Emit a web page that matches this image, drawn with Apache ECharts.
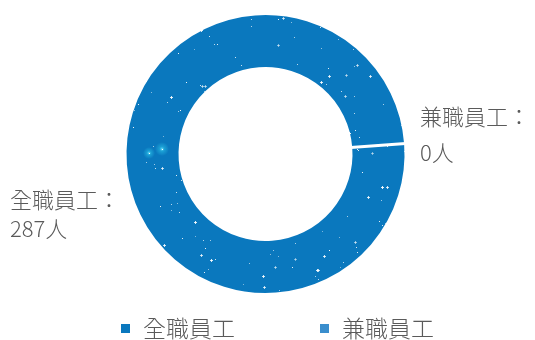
<!DOCTYPE html>
<html>
<head>
<meta charset="utf-8">
<script src="https://cdn.jsdelivr.net/npm/echarts@6/dist/echarts.min.js"></script>
<style>
  html, body { margin: 0; padding: 0; background: #fff; }
  #chart { width: 535px; height: 340px; }
</style>
</head>
<body>
<div id="chart"></div>
<script>
// Staff headcount by employment type
const categories = ['全職員工', '兼職員工'];
const headcounts = [287, 0];
const unit = '人';
const sliceColors = ['#0a78be', '#3a8ecd'];

const W = 535, H = 340;

// Star-speckled fill texture for the ring (deterministic sequence)
function makeStarTexture() {
  const c = document.createElement('canvas');
  c.width = W; c.height = H;
  const g = c.getContext('2d');
  g.fillStyle = sliceColors[0];
  g.fillRect(0, 0, W, H);
  let s = 12345;
  const next = () => { s = (s * 1103515245 + 12345) % 2147483648; return s / 2147483648; };
  for (let i = 0; i < 240; i++) {
    const x = Math.round(120 + next() * 295);
    const y = Math.round(10 + next() * 290);
    const big = next() < 0.35;
    const a = 0.45 + next() * 0.5;
    g.fillStyle = 'rgba(255,255,255,' + a.toFixed(2) + ')';
    if (big) {
      g.fillRect(x - 1, y, 3, 1);
      g.fillRect(x, y - 1, 1, 3);
    } else {
      g.fillRect(x, y, 1, 1);
    }
  }
  // two soft cyan glints on the left side of the ring
  [[149, 153, 6], [162, 149, 7]].forEach(([x, y, r]) => {
    const rg = g.createRadialGradient(x, y, 0, x, y, r);
    rg.addColorStop(0, 'rgba(120,230,255,0.95)');
    rg.addColorStop(0.35, 'rgba(40,190,230,0.55)');
    rg.addColorStop(1, 'rgba(40,190,230,0)');
    g.fillStyle = rg;
    g.beginPath(); g.arc(x, y, r, 0, Math.PI * 2); g.fill();
    g.fillStyle = '#ffffff';
    g.fillRect(x, y, 1, 1);
  });
  return c;
}

const texture = makeStarTexture();
const labelFont = "'Noto Sans CJK TC', 'Noto Sans', sans-serif";
const textColor = '#5a5a5a';

const chart = echarts.init(document.getElementById('chart'), null, { renderer: 'canvas' });

chart.setOption({
  animation: false,
  legend: {
    left: 114,
    top: 312,
    itemWidth: 11,
    itemHeight: 11,
    itemGap: 83,
    icon: 'rect',
    textStyle: { fontSize: 23, fontWeight: 300, color: textColor, fontFamily: labelFont, padding: [0, 0, 0, 7] },
    data: categories.map((name, i) => ({ name, itemStyle: { color: sliceColors[i] } }))
  },
  series: [{
    type: 'pie',
    center: [265.5, 154],
    radius: [85.5, 140.5],
    startAngle: 4.3,
    clockwise: true,
    avoidLabelOverlap: false,
    itemStyle: { borderColor: '#fff', borderWidth: 3 },
    emphasis: { disabled: true },
    label: {
      show: true,
      position: 'outside',
      formatter: p => p.name + '：\n' + p.value + unit,
      fontSize: 22,
      fontWeight: 300,
      color: textColor,
      fontFamily: labelFont,
      align: 'left'
    },
    labelLine: { show: false },
    labelLayout: function (p) {
      if (p.dataIndex === 0) {
        return { x: 10, y: 214, align: 'left', verticalAlign: 'middle' };
      }
      return { x: 420, y: 135, align: 'left', verticalAlign: 'middle' };
    },
    data: categories.map((name, i) => ({
      name,
      value: headcounts[i],
      itemStyle: { color: i === 0 ? { image: texture, repeat: 'no-repeat' } : sliceColors[i] },
      label: { lineHeight: i === 0 ? 29 : 36 }
    }))
  }]
});
</script>
</body>
</html>
